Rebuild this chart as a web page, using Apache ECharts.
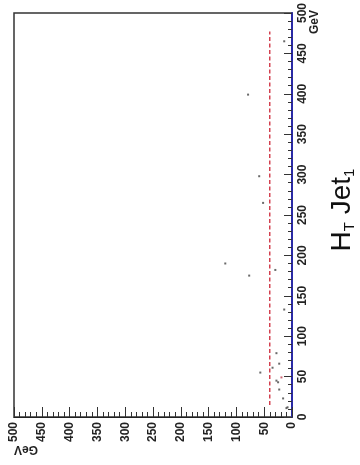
<!DOCTYPE html>
<html>
<head>
<meta charset="utf-8">
<script src="https://cdn.jsdelivr.net/npm/echarts@6/dist/echarts.min.js"></script>
<style>
html,body{margin:0;padding:0;background:#fff;}
#c{width:360px;height:465px;}
</style>
</head>
<body>
<div id="c"></div>
<script>
// Jet1 (horizontal, GeV) and HT (vertical, GeV) values
var jetValues = [14, 79, 59, 52, 120, 77, 30, 14, 28, 23, 35, 57, 28, 25, 23, 16, 10, 8];
var htValues  = [465, 399, 298, 265, 190, 175, 182, 133, 79, 66, 61, 55, 45, 43, 34, 23, 11, 12];
var redJet = [19];
var redHt = [49];
// cut line (x = 40, from y 15 to 477)
var cutX = [40, 40];
var cutY = [15, 477];
var axisMin = 0, axisMax = 500, axisStep = 50;

var pts = jetValues.map(function(v, i){ return [v, htValues[i]]; });
var rpts = redJet.map(function(v, i){ return [v, redHt[i]]; });
var cut = cutX.map(function(v, i){ return [v, cutY[i]]; });

var chart = echarts.init(document.getElementById('c'), null, {renderer:'canvas'});
var labelFont = {fontFamily:'Liberation Sans', fontWeight:'bold', fontSize:12, color:'#222'};
chart.setOption({
  animation:false,
  backgroundColor:'#ffffff',
  grid:{left:14, top:6, right:68, bottom:48, show:true, borderColor:'#333', borderWidth:1.5, backgroundColor:'transparent'},
  xAxis:{
    type:'value', min:axisMin, max:axisMax, interval:axisStep, inverse:true, position:'bottom',
    axisLine:{show:true, lineStyle:{color:'#222', width:1}},
    axisTick:{show:true, inside:true, length:10, lineStyle:{color:'#333', width:1}},
    minorTick:{show:true, splitNumber:5, length:5, lineStyle:{color:'#333', width:1}},
    splitLine:{show:false},
    axisLabel:Object.assign({rotate:90, margin:5, showMinLabel:true, showMaxLabel:true}, labelFont)
  },
  yAxis:{
    type:'value', min:axisMin, max:axisMax, interval:axisStep, position:'right',
    axisLine:{show:true, lineStyle:{color:'#2a2aa6', width:2}},
    axisTick:{show:true, inside:true, length:8, lineStyle:{color:'#333', width:1}},
    minorTick:{show:true, splitNumber:5, length:4, lineStyle:{color:'#333', width:1}},
    splitLine:{show:false},
    axisLabel:Object.assign({rotate:90, margin:5, showMinLabel:true, showMaxLabel:true}, labelFont)
  },
  series:[
    {type:'line', data:cut, symbol:'none', lineStyle:{color:'#d03545', width:1.4, type:[4,2.5]}, z:2},
    {type:'scatter', data:pts, symbol:'rect', symbolSize:2, itemStyle:{color:'#444'}, z:3},
    {type:'scatter', data:rpts, symbol:'rect', symbolSize:2, itemStyle:{color:'#c04050'}, z:3}
  ],
  graphic:[
    {type:'text', x:315, y:22, rotation:Math.PI/2, style:{text:'GeV', font:'bold 12px "Liberation Sans"', fill:'#222', align:'center', verticalAlign:'middle'}},
    {type:'text', x:26, y:449, rotation:Math.PI, style:{text:'GeV', font:'bold 12px "Liberation Sans"', fill:'#222', align:'center', verticalAlign:'middle'}},
    {type:'text', x:342, y:210, rotation:Math.PI/2, style:{
      text:'{a|H}{s|T}{a| Jet}{s|1}', align:'center', verticalAlign:'middle',
      rich:{
        a:{fontFamily:'Liberation Sans', fontSize:28, lineHeight:30, verticalAlign:'middle', fill:'#111'},
        s:{fontFamily:'Liberation Sans', fontSize:15, lineHeight:15, verticalAlign:'bottom', fill:'#111'}
      }
    }}
  ]
});
</script>
</body>
</html>
